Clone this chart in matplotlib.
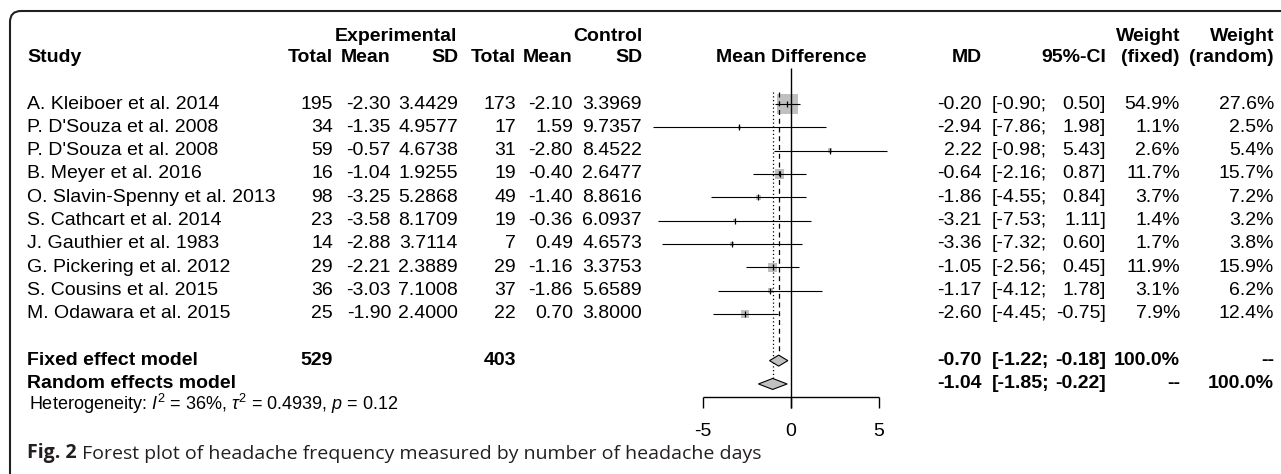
import numpy as np
import matplotlib.pyplot as plt
from matplotlib.path import Path
from matplotlib.patches import PathPatch, Polygon

# Dados do forest plot
estudos = ["A. Kleiboer et al. 2014", "P. D'Souza et al. 2008", "P. D'Souza et al. 2008",
           "B. Meyer et al. 2016", "O. Slavin-Spenny et al. 2013", "S. Cathcart et al. 2014",
           "J. Gauthier et al. 1983", "G. Pickering et al. 2012", "S. Cousins et al. 2015",
           "M. Odawara et al. 2015"]
exp_n = [195, 34, 59, 16, 98, 23, 14, 29, 36, 25]
exp_mean = [-2.30, -1.35, -0.57, -1.04, -3.25, -3.58, -2.88, -2.21, -3.03, -1.90]
exp_sd = [3.4429, 4.9577, 4.6738, 1.9255, 5.2868, 8.1709, 3.7114, 2.3889, 7.1008, 2.4000]
ctl_n = [173, 17, 31, 19, 49, 19, 7, 29, 37, 22]
ctl_mean = [-2.10, 1.59, -2.80, -0.40, -1.40, -0.36, 0.49, -1.16, -1.86, 0.70]
ctl_sd = [3.3969, 9.7357, 8.4522, 2.6477, 8.8616, 6.0937, 4.6573, 3.3753, 5.6589, 3.8000]
md = [-0.20, -2.94, 2.22, -0.64, -1.86, -3.21, -3.36, -1.05, -1.17, -2.60]
ci_lo = [-0.90, -7.86, -0.98, -2.16, -4.55, -7.53, -7.32, -2.56, -4.12, -4.45]
ci_hi = [0.50, 1.98, 5.43, 0.87, 0.84, 1.11, 0.60, 0.45, 1.78, -0.75]
peso_fixo = [54.9, 1.1, 2.6, 11.7, 3.7, 1.4, 1.7, 11.9, 3.1, 7.9]
peso_aleat = [27.6, 2.5, 5.4, 15.7, 7.2, 3.2, 3.8, 15.9, 6.2, 12.4]

# Modelos resumo
modelos = ["Fixed effect model", "Random effects model"]
mod_exp_n = ["529", ""]
mod_ctl_n = ["403", ""]
mod_md = [-0.70, -1.04]
mod_lo = [-1.22, -1.85]
mod_hi = [-0.18, -0.22]
mod_pf = ["100.0%", "--"]
mod_pa = ["--", "100.0%"]
ticks = [-5, 0, 5]

plt.rcParams['font.family'] = ['Liberation Sans', 'DejaVu Sans']
plt.rcParams['mathtext.fontset'] = 'custom'
plt.rcParams['mathtext.rm'] = 'Liberation Sans'
plt.rcParams['mathtext.it'] = 'Liberation Sans:italic'

fig = plt.figure(figsize=(12.81, 4.74), dpi=100)
# eixo de texto em pixels
ax = fig.add_axes([0, 0, 1, 1])
ax.set_xlim(0, 1281)
ax.set_ylim(474, 0)
ax.axis('off')
# eixo do forest: 0 em x=791 px, 17.6 px por unidade
px0, esc = 791, 17.6
ax2 = fig.add_axes([0, 0, 1, 1])
ax2.set_xlim(-px0 / esc, (1281 - px0) / esc)
ax2.set_ylim(474, 0)
ax2.axis('off')
ax2.patch.set_alpha(0)

fs = 14
y0, dy = 104, 23.33
ys = [y0 + i * dy for i in range(len(estudos))]
ym = [ys[-1] + 2 * dy, ys[-1] + 3 * dy]

def t(x, y, s, ha='right', bold=False, **kw):
    ax.text(x, y, s, ha=ha, va='center', fontsize=fs, fontweight='bold' if bold else 'normal', **kw)

# cabecalho
hy1, hy2 = 36, 57
t(457, hy1, "Experimental", bold=True)
t(643, hy1, "Control", bold=True)
t(1180, hy1, "Weight", bold=True)
t(1274, hy1, "Weight", bold=True)
t(27, hy2, "Study", ha='left', bold=True)
for x, s in [(333, "Total"), (391, "Mean"), (458, "SD"), (516, "Total"), (573, "Mean"),
             (642, "SD"), (982, "MD"), (1106, "95%-CI"), (1180, "(fixed)"), (1274, "(random)")]:
    t(x, hy2, s, bold=True)
t(791, hy2, "Mean Difference", ha='center', bold=True)

# linhas dos estudos
for i, y in enumerate(ys):
    t(27, y, estudos[i], ha='left')
    t(333, y, str(exp_n[i]))
    t(391, y, f"{exp_mean[i]:.2f}")
    t(458, y, f"{exp_sd[i]:.4f}")
    t(516, y, str(ctl_n[i]))
    t(573, y, f"{ctl_mean[i]:.2f}")
    t(642, y, f"{ctl_sd[i]:.4f}")
    t(982, y, f"{md[i]:.2f}")
    t(992, y, f"[{ci_lo[i]:.2f};", ha='left')
    t(1106, y, f"{ci_hi[i]:.2f}]")
    t(1180, y, f"{peso_fixo[i]:.1f}%")
    t(1274, y, f"{peso_aleat[i]:.1f}%")

for j, y in enumerate(ym):
    t(27, y, modelos[j], ha='left', bold=True)
    t(333, y, mod_exp_n[j], bold=True)
    t(516, y, mod_ctl_n[j], bold=True)
    t(982, y, f"{mod_md[j]:.2f}", bold=True)
    t(992, y, f"[{mod_lo[j]:.2f};", ha='left', bold=True)
    t(1106, y, f"{mod_hi[j]:.2f}]", bold=True)
    t(1180, y, mod_pf[j], bold=True)
    t(1274, y, mod_pa[j], bold=True)

ax.text(29, 404, r"Heterogeneity: $I^2$ = 36%, $\tau^2$ = 0.4939, $p$ = 0.12",
        ha='left', va='center', fontsize=13)

# forest
ax2.scatter(md, ys, s=[210 * w / 54.9 for w in peso_fixo], marker='s', color='#c0c0c0',
            linewidths=0, zorder=1)
ax2.hlines(ys, ci_lo, ci_hi, color='black', lw=0.8, zorder=2)
ax2.scatter(md, ys, s=16, marker='|', color='black', linewidths=0.9, zorder=3)
ax2.vlines(0, 68, 408, color='black', lw=1.0)
ax2.vlines(mod_md[0], 92, ym[0] - 5, color='black', lw=0.9, linestyles=(0, (4, 3)))
ax2.vlines(mod_md[1], 92, ym[1] - 5, color='black', lw=0.9, linestyles=(0, (1, 2)))
for j, y in enumerate(ym):
    ax2.add_patch(Polygon([(mod_lo[j], y), (mod_md[j], y - 5.5), (mod_hi[j], y), (mod_md[j], y + 5.5)],
                          closed=True, facecolor='#c0c0c0', edgecolor='black', lw=0.8, zorder=4))
ax2.hlines(397, ticks[0], ticks[-1], color='black', lw=1.0)
ax2.vlines(ticks, 397, 408, color='black', lw=1.0)
for tk in ticks:
    ax2.text(tk, 432, str(tk), ha='center', va='center', fontsize=fs)

# moldura com canto arredondado
moldura = Path([(10, 474), (10, 22), (10, 11), (21, 11), (1281, 11)],
               [Path.MOVETO, Path.LINETO, Path.CURVE3, Path.CURVE3, Path.LINETO])
ax.add_patch(PathPatch(moldura, fill=False, edgecolor='#231f20', lw=1.5))

# legenda da figura
cap = ax.text(27, 453, "Fig. 2", ha='left', va='center', fontsize=14, family='Open Sans',
              fontweight='bold', color='#231f20')
ax.annotate(" Forest plot of headache frequency measured by number of headache days",
            xy=(1, 0), xycoords=cap, ha='left', va='bottom', fontsize=14,
            family='Open Sans', color='#231f20')

fig.savefig('out.png', dpi=100)
